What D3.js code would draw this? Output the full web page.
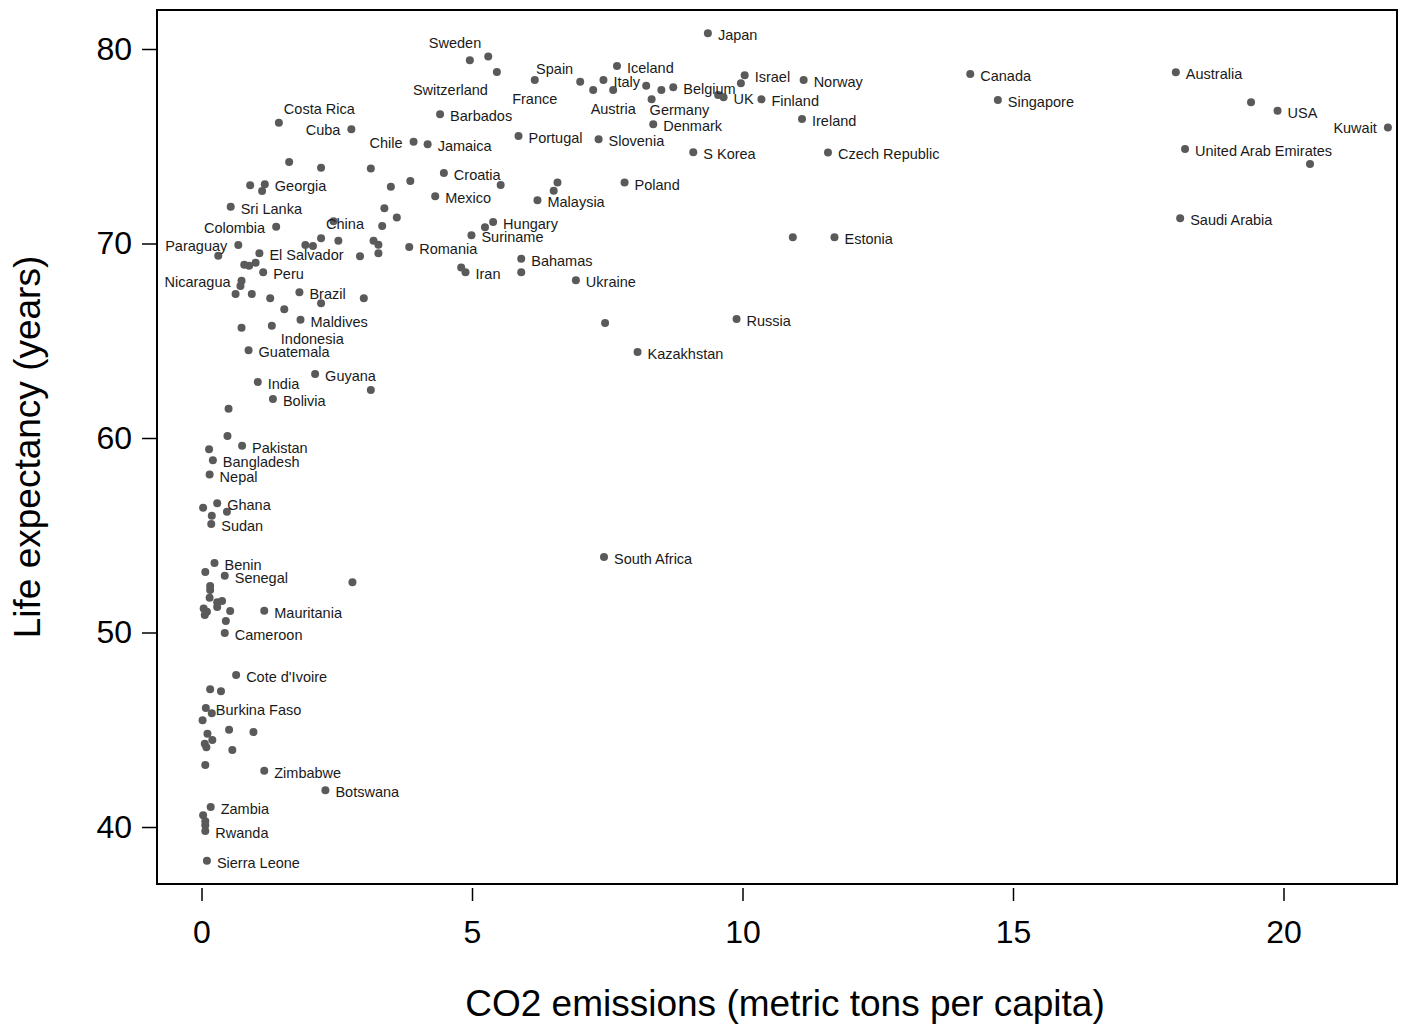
<!DOCTYPE html>
<html><head><meta charset="utf-8">
<script src="https://cdn.jsdelivr.net/npm/d3@7"></script>
<style>body{margin:0;background:#fff} text{font-family:"Liberation Sans",Arial,Helvetica,sans-serif}</style>
</head><body>
<svg id="chart" width="1411" height="1024"></svg>
<script>
const country = ["Japan","Sweden","","Switzerland","France","Spain","Italy","Iceland","Austria","","","","Belgium","Germany","Denmark","Israel","","","UK","Finland","Norway","Ireland","S Korea","Czech Republic","Canada","Singapore","Australia","","USA","Kuwait","United Arab Emirates","","Saudi Arabia","Portugal","Slovenia","Barbados","Cuba","Costa Rica","Chile","Jamaica","","","","Croatia","","","","Georgia","","","Mexico","","","Malaysia","Poland","Sri Lanka","","","","Colombia","","China","","","","","","","","Romania","Hungary","","Suriname","Iran","","Bahamas","","Ukraine","","Estonia","","Russia","Kazakhstan","South Africa","Paraguay","","El Salvador","","","","Peru","Nicaragua","","","","","","Brazil","","","Maldives","","Indonesia","Guatemala","India","Guyana","","Bolivia","","","Pakistan","","Bangladesh","Nepal","","Ghana","","","Sudan","Benin","","Senegal","","","","","","","","","","","","Mauritania","","Cameroon","Cote d'Ivoire","","","Burkina Faso","","","","","","","","","","","Zimbabwe","Botswana","Zambia","","","","Rwanda","Sierra Leone"];
const co2 = [9.36,5.30,4.96,5.46,6.16,7.00,7.43,7.68,7.61,7.24,8.22,8.50,8.72,8.32,8.35,10.04,9.97,9.55,9.65,10.35,11.13,11.10,9.09,11.58,14.21,14.72,18.01,19.40,19.89,21.93,18.18,20.49,18.09,5.86,7.34,4.41,2.77,1.43,3.92,4.18,1.62,2.21,3.13,4.48,3.86,3.50,5.53,1.17,0.90,1.12,4.32,6.58,6.51,6.21,7.82,0.54,3.38,3.61,3.34,1.38,2.44,2.21,1.92,2.06,2.53,3.18,3.27,3.27,2.93,3.84,5.39,5.24,4.99,4.88,4.80,5.91,5.91,6.92,10.93,11.70,7.46,9.89,8.06,7.44,0.68,0.31,1.07,0.79,0.88,1.00,1.14,0.74,0.72,0.63,0.93,1.27,1.53,1.81,2.21,3.00,1.83,0.74,1.30,0.87,1.04,2.10,3.13,1.32,0.50,0.48,0.75,0.14,0.21,0.15,0.03,0.29,0.47,0.19,0.18,0.24,0.07,0.43,2.79,0.16,0.16,0.15,0.29,0.38,0.29,0.53,0.04,0.10,0.06,1.16,0.45,0.43,0.64,0.16,0.36,0.08,0.19,0.02,0.51,0.96,0.11,0.20,0.06,0.09,0.57,0.07,1.16,2.29,0.17,0.03,0.07,0.07,0.07,0.10];
const lifeExp = [80.81,79.62,79.42,78.82,78.41,78.32,78.41,79.13,77.89,77.89,78.11,77.89,78.03,77.41,76.13,78.65,78.24,77.63,77.52,77.41,78.41,76.40,74.69,74.68,78.71,77.38,78.80,77.26,76.83,75.97,74.86,74.09,71.30,75.53,75.36,76.64,75.87,76.21,75.23,75.10,74.19,73.90,73.85,73.62,73.21,72.92,73.01,73.04,72.99,72.70,72.43,73.14,72.71,72.22,73.13,71.89,71.81,71.34,70.90,70.86,71.14,70.27,69.92,69.87,70.14,70.14,69.93,69.50,69.34,69.82,71.11,70.83,70.42,68.52,68.76,69.22,68.52,68.11,70.32,70.32,65.91,66.12,64.42,53.88,69.92,69.37,69.50,68.91,68.86,69.01,68.52,68.09,67.81,67.40,67.40,67.18,66.62,67.49,66.93,67.18,66.08,65.67,65.77,64.51,62.88,63.29,62.47,62.00,61.51,60.10,59.60,59.42,58.85,58.12,56.42,56.64,56.21,56.00,55.58,53.57,53.11,52.92,52.58,52.39,52.19,51.79,51.55,51.62,51.31,51.11,51.24,51.07,50.90,51.12,50.59,49.97,47.81,47.08,46.98,46.12,45.85,45.49,45.00,44.88,44.80,44.47,44.28,44.10,43.96,43.19,42.89,41.89,41.03,40.60,40.29,40.09,39.79,38.27];
// label position as clock direction (0 = no label)
const labelClock = [3,11,0,7,6,11,3,3,6,0,0,0,3,5,3,3,0,0,3,3,3,3,3,3,3,3,3,0,3,9,3,0,3,3,3,3,9,1,9,3,0,0,0,3,0,0,0,3,0,0,3,0,0,3,3,3,0,0,0,9,0,1,0,0,0,0,0,0,0,3,3,0,3,3,0,3,0,3,0,3,0,3,3,3,9,0,3,0,0,0,3,9,0,0,0,0,0,3,0,0,3,0,4,3,3,3,0,3,0,0,3,0,3,3,0,3,0,0,3,3,0,3,0,0,0,0,0,0,0,0,0,0,0,3,0,3,3,0,0,3,0,0,0,0,0,0,0,0,0,0,3,3,3,0,0,0,3,3];
const xTicks = [0,5,10,15,20];
const yTicks = [40,50,60,70,80];
const xTitle = "CO2 emissions (metric tons per capita)";
const yTitle = "Life expectancy (years)";

const data = country.map((c,i)=>({name:c, x:co2[i], y:lifeExp[i], pos:labelClock[i]}));

const W=1411,H=1024;
const L=157,R=1397,T=10,B=884;
const svg=d3.select("#chart");
const x=d3.scaleLinear().domain([-0.8226,22.098]).range([L,R]);
const y=d3.scaleLinear().domain([37.07,82.005]).range([B,T]);

svg.append("rect").attr("width",W).attr("height",H).attr("fill","#fff");

// frame
svg.append("rect").attr("x",L).attr("y",T).attr("width",R-L).attr("height",B-T)
  .attr("fill","none").attr("stroke","#000").attr("stroke-width",2);

// axes
const yAxis=svg.append("g").attr("transform",`translate(${L-1},0)`)
  .call(d3.axisLeft(y).tickValues(yTicks).tickSize(14).tickPadding(10));
const xAxis=svg.append("g").attr("transform",`translate(0,${B+4})`)
  .call(d3.axisBottom(x).tickValues(xTicks).tickSize(13).tickPadding(19));
[yAxis,xAxis].forEach(g=>{
  g.select(".domain").remove();
  g.selectAll(".tick line").attr("stroke","#000").attr("stroke-width",1.5);
  g.selectAll(".tick text").attr("fill","#000").style("font-size","32px")
   .style("font-family",'"Liberation Sans",Arial,sans-serif');
});

// titles
svg.append("text").attr("x",(L+R)/2+8).attr("y",1016).attr("text-anchor","middle")
  .style("font-size","37px").attr("fill","#000").text(xTitle);
svg.append("text").attr("transform",`translate(40,${(T+B)/2}) rotate(-90)`).attr("text-anchor","middle")
  .style("font-size","37px").attr("fill","#000").text(yTitle);

// points
svg.append("g").selectAll("circle").data(data).join("circle")
  .attr("cx",d=>x(d.x)).attr("cy",d=>y(d.y)).attr("r",4).attr("fill","#5a5a5a");

// labels
const off={3:[10,2,"start"],9:[-11,1,"end"],1:[5,-14,"start"],11:[-7,-13,"end"],
  7:[-9,18,"end"],6:[0,19,"middle"],4:[9,13,"start"],5:[-2,11,"start"]};
svg.append("g").selectAll("text").data(data.filter(d=>d.pos>0&&d.name)).join("text")
  .attr("x",d=>x(d.x)+off[d.pos][0])
  .attr("y",d=>y(d.y)+off[d.pos][1]+5)
  .attr("text-anchor",d=>off[d.pos][2])
  .style("font-size","14.5px").attr("fill","#1a1a1a")
  .text(d=>d.name);
</script>
</body></html>
